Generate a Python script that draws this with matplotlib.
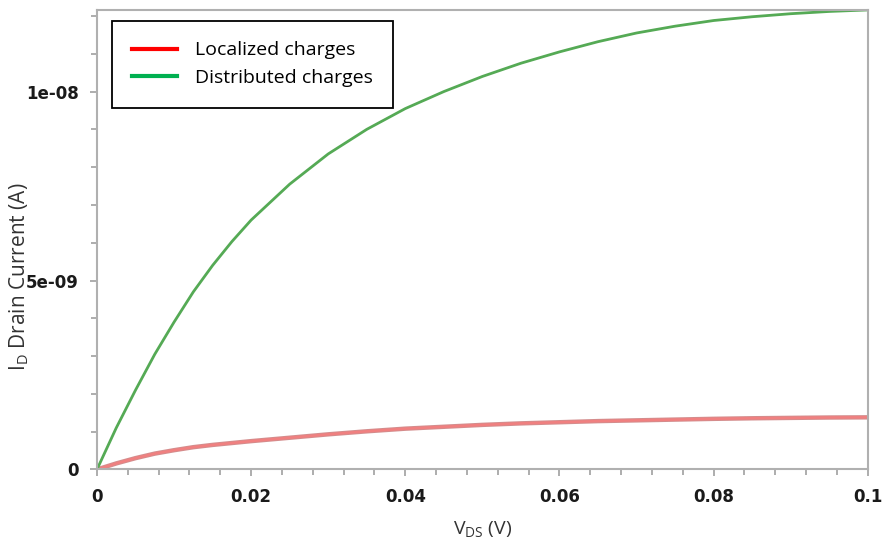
import matplotlib.pyplot as plt
from matplotlib.lines import Line2D
from matplotlib.ticker import MultipleLocator, FuncFormatter

# drain voltage (V)
vds = [0, 0.0025, 0.005, 0.0075, 0.01, 0.0125, 0.015, 0.0175, 0.02, 0.025, 0.03,
       0.035, 0.04, 0.045, 0.05, 0.055, 0.06, 0.065, 0.07, 0.075, 0.08, 0.085,
       0.09, 0.095, 0.1]
# drain current (nA)
id_localized = [0, 0.16, 0.30, 0.42, 0.51, 0.59, 0.65, 0.70, 0.75, 0.84, 0.93,
                1.01, 1.08, 1.13, 1.18, 1.22, 1.25, 1.28, 1.30, 1.32, 1.34, 1.355,
                1.365, 1.375, 1.38]
id_distributed = [0, 1.1, 2.1, 3.05, 3.9, 4.7, 5.4, 6.03, 6.6, 7.55, 8.35,
                  9.0, 9.55, 10.0, 10.4, 10.75, 11.05, 11.32, 11.55, 11.73, 11.88, 11.98,
                  12.06, 12.12, 12.16]

legend_labels = ['Localized charges', 'Distributed charges']

fig = plt.figure(figsize=(8.84, 5.4), dpi=100)
ax = fig.add_axes([0.1097, 0.1306, 0.872, 0.851])

loc_a = [v * 1e-9 for v in id_localized]
dist_a = [v * 1e-9 for v in id_distributed]

# red curve: light line with a darker edge
ax.plot(vds, loc_a, color='#b03030', lw=3.2, alpha=0.55)
ax.plot(vds, loc_a, color='#f08080', lw=1.8)
ax.plot(vds, dist_a, color='#55aa55', lw=2.0)

ax.set_xlim(0, 0.1)
ax.set_ylim(0, 12.16e-9)

ax.xaxis.set_major_locator(MultipleLocator(0.02))
ax.xaxis.set_minor_locator(MultipleLocator(0.004))
ax.yaxis.set_major_locator(MultipleLocator(5e-9))
ax.yaxis.set_minor_locator(MultipleLocator(1e-9))


def xfmt(v, pos):
    if abs(v) < 1e-12:
        return '0'
    if abs(v - 0.1) < 1e-9:
        return '0.1'
    return '%.2f' % v


def yfmt(v, pos):
    if abs(v) < 1e-20:
        return '0'
    return '%.0e' % v


ax.xaxis.set_major_formatter(FuncFormatter(xfmt))
ax.yaxis.set_major_formatter(FuncFormatter(yfmt))

for s in ax.spines.values():
    s.set_color('#b0b0b0')
    s.set_linewidth(1.5)

ax.tick_params(which='both', direction='out', colors='#a0a0a0', width=1.2)
ax.tick_params(which='major', length=5, pad=8)
ax.tick_params(which='minor', length=4)
for lab in ax.get_xticklabels() + ax.get_yticklabels():
    lab.set_fontfamily('DejaVu Sans')
    lab.set_fontweight('bold')
    lab.set_fontsize(12)
    lab.set_color('#1a1a1a')

ax.set_xlabel(r'V$_{\mathregular{DS}}$ (V)', fontsize=14, family='Open Sans', color='#333333', labelpad=10)
ax.set_ylabel(r'I$_{\mathregular{D}}$ Drain Current (A)', fontsize=15, family='Open Sans', color='#333333')
ax.yaxis.set_label_coords(-0.086, 0.42)

handles = [Line2D([0], [0], color='#ff0000', lw=3),
           Line2D([0], [0], color='#00b050', lw=3)]
leg = ax.legend(handles, legend_labels, loc='upper left', bbox_to_anchor=(0.0195, 0.976),
                borderaxespad=0, fancybox=False, framealpha=1, edgecolor='black',
                prop={'family': 'Open Sans', 'size': 14}, handlelength=2.3, handletextpad=0.9,
                borderpad=1.05, labelspacing=0.5)
leg.get_frame().set_linewidth(1.3)

fig.savefig('out.png', dpi=100)
